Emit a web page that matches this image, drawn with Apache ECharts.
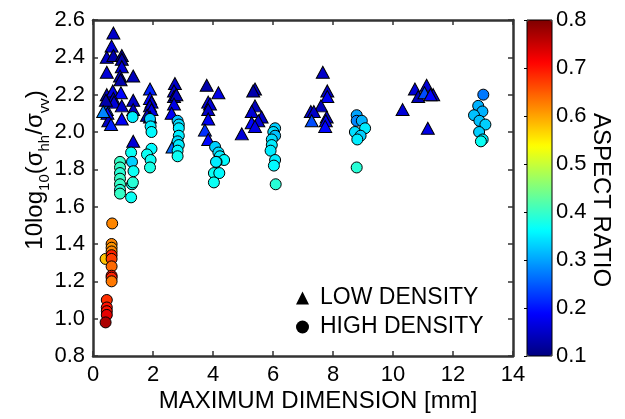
<!DOCTYPE html>
<html><head><meta charset="utf-8">
<script src="https://cdn.jsdelivr.net/npm/echarts@6/dist/echarts.min.js"></script>
<style>html,body{margin:0;padding:0;background:#fff}#c{width:625px;height:419px}</style>
</head><body><div id="c"></div>
<script>
// LOW DENSITY (triangles): max dimension [mm], 10log10(shh/svv), aspect ratio
const lowX  = [0.68,0.62,0.46,0.68,0.96,0.96,0.96,0.90,0.92,1.34,0.46,0.46,0.66,0.93,0.68,0.70,0.96,1.34,1.34,0.46,0.48,0.51,0.60,0.96,0.43,1.34,0.34,
               1.90,1.90,1.95,1.90,1.95,1.80,1.90,
               2.73,2.70,2.70,2.78,2.70,2.62,2.65,
               3.79,4.18,3.84,3.90,3.84,3.84,3.73,3.84,
               5.40,5.34,5.40,5.29,5.62,5.51,5.29,5.40,4.96,
               7.66,7.81,7.81,7.60,7.26,7.36,7.29,7.79,7.76,7.74,
               10.73,11.12,10.84,11.34,11.05,11.25,10.32,11.16];
const lowY  = [2.53,2.46,2.40,2.41,2.41,2.39,2.35,2.30,2.28,2.30,2.32,2.20,2.22,2.21,2.18,2.16,2.14,2.17,2.12,2.12,2.10,2.06,2.04,2.07,2.17,1.95,2.11,
               2.23,2.18,2.16,2.14,2.12,2.09,2.08,
               2.26,2.22,2.19,2.20,2.15,2.10,1.92,
               2.25,2.21,2.16,2.15,2.12,2.07,2.01,1.96,
               2.23,2.22,2.14,2.11,2.08,2.06,2.05,2.03,1.99,
               2.32,2.22,2.19,2.14,2.11,2.11,2.06,2.08,2.06,2.03,
               2.23,2.25,2.19,2.20,2.21,2.20,2.12,2.02];
const lowAR = [0.15,0.16,0.15,0.13,0.12,0.13,0.16,0.14,0.13,0.14,0.16,0.15,0.17,0.19,0.14,0.16,0.15,0.15,0.14,0.25,0.19,0.15,0.21,0.18,0.13,0.16,0.28,
               0.21,0.19,0.16,0.15,0.17,0.14,0.13,
               0.15,0.16,0.13,0.14,0.17,0.18,0.26,
               0.13,0.17,0.17,0.16,0.15,0.18,0.22,0.19,
               0.15,0.13,0.14,0.16,0.15,0.16,0.19,0.17,0.16,
               0.15,0.15,0.18,0.14,0.16,0.15,0.24,0.15,0.18,0.19,
               0.16,0.16,0.14,0.15,0.24,0.19,0.16,0.17];
// HIGH DENSITY (circles)
const highX  = [0.64,0.62,0.62,0.62,0.42,0.62,0.62,0.62,0.62,0.62,0.62,0.46,0.46,0.46,0.46,0.42,
                0.90,0.90,0.90,0.90,0.90,0.90,0.90,
                1.32,1.27,1.30,1.35,1.30,1.33,1.27,
                1.90,1.92,1.95,1.95,1.80,1.92,1.90,
                2.82,2.86,2.86,2.86,2.82,2.86,2.82,2.82,
                4.07,4.18,4.23,4.37,4.12,4.10,4.03,4.21,4.03,
                6.07,6.01,6.07,5.96,5.96,5.92,6.07,6.03,6.09,
                8.79,8.79,8.96,9.07,8.73,8.92,8.81,8.79,
                13.01,12.84,12.98,12.70,12.88,13.08,12.87,12.99,12.93];
const highY  = [1.51,1.40,1.38,1.36,1.32,1.34,1.32,1.28,1.23,1.22,1.20,1.10,1.06,1.04,1.02,0.98,
                1.84,1.81,1.78,1.75,1.72,1.69,1.67,
                2.08,1.89,1.84,1.79,1.72,1.73,1.65,
                2.07,2.03,2.00,1.91,1.88,1.85,1.81,
                2.06,2.04,2.02,1.98,1.95,1.93,1.90,1.87,
                1.92,1.89,1.87,1.85,1.84,1.84,1.78,1.78,1.73,
                2.02,2.00,1.98,1.96,1.93,1.90,1.85,1.82,1.72,
                2.09,2.06,2.06,2.02,2.00,1.98,1.96,1.81,
                2.20,2.14,2.11,2.09,2.06,2.04,2.00,1.96,1.95];
const highAR = [0.62,0.62,0.61,0.62,0.58,0.69,0.67,0.64,0.70,0.69,0.63,0.68,0.70,0.70,0.73,0.77,
                0.40,0.40,0.39,0.40,0.40,0.39,0.40,
                0.35,0.37,0.33,0.37,0.37,0.39,0.37,
                0.33,0.35,0.36,0.36,0.37,0.37,0.38,
                0.32,0.34,0.35,0.35,0.34,0.35,0.36,0.37,
                0.33,0.34,0.35,0.36,0.35,0.35,0.37,0.36,0.37,
                0.33,0.34,0.32,0.34,0.35,0.35,0.35,0.36,0.39,
                0.30,0.28,0.31,0.35,0.34,0.33,0.35,0.39,
                0.27,0.31,0.31,0.32,0.32,0.33,0.33,0.35,0.37];

const xTicks = {min: 0, max: 14, interval: 2};
const yTicks = {min: 0.8, max: 2.6, interval: 0.2};
const cTicks = {min: 0.1, max: 0.8, interval: 0.1};
const seriesNames = ['LOW DENSITY', 'HIGH DENSITY'];
const xTitle = 'MAXIMUM DIMENSION [mm]';
const cTitle = 'ASPECT RATIO';

const FONT = '"Liberation Sans", Arial, Helvetica, sans-serif';
const AX = '#333';
const jet = ['#00007F','#0000FF','#007FFF','#00FFFF','#7FFF7F','#FFFF00','#FF7F00','#FF0000','#7F0000'];

const zip = (a, b, c) => a.map((v, i) => [v, b[i], c[i]]);

function mainAxis(pos, showLabel, t, fmt) {
  return {
    type: 'value', gridIndex: 0, position: pos,
    min: t.min, max: t.max, interval: t.interval,
    axisLine: {show: true, onZero: false, lineStyle: {color: AX, width: 2.5}},
    axisTick: {show: true, inside: true, length: 5, lineStyle: {color: AX, width: 1.5}},
    axisLabel: {show: showLabel, fontSize: 22, fontFamily: FONT, color: '#000', margin: 8, formatter: fmt},
    splitLine: {show: false}
  };
}

const chart = echarts.init(document.getElementById('c'), null, {renderer: 'canvas'});
chart.setOption({
  animation: false,
  backgroundColor: '#fff',
  grid: [
    {left: 93, top: 20, width: 420, height: 336, containLabel: false},
    {left: 527, top: 20, width: 25, height: 336, show: true, z: 10, borderColor: '#000', borderWidth: 1, backgroundColor: 'transparent'}
  ],
  xAxis: [
    mainAxis('bottom', true, xTicks, v => String(v)),
    mainAxis('top', false, xTicks),
    {type: 'value', gridIndex: 1, show: false, min: 0, max: 1}
  ],
  yAxis: [
    mainAxis('left', true, yTicks, v => v.toFixed(1)),
    mainAxis('right', false, yTicks),
    {type: 'value', gridIndex: 1, position: 'right', z: 10,
     min: cTicks.min, max: cTicks.max, interval: cTicks.interval,
     axisLine: {show: false},
     axisTick: {show: true, inside: true, length: 3, lineStyle: {color: '#000', width: 1}},
     axisLabel: {show: true, fontSize: 22, fontFamily: FONT, color: '#000', margin: 4, formatter: v => v.toFixed(1)},
     splitLine: {show: false}}
  ],
  visualMap: {
    type: 'continuous', show: true, min: cTicks.min, max: cTicks.max, dimension: 2,
    seriesIndex: [0, 1], calculable: false, realtime: false, hoverLink: false,
    left: 527, top: 20, itemWidth: 25, itemHeight: 336, padding: 0, text: null,
    inRange: {color: jet}
  },
  legend: {
    orient: 'vertical', left: 291, top: 281, itemWidth: 13, itemHeight: 13, itemGap: 5,
    selectedMode: false,
    textStyle: {fontSize: 23, fontFamily: FONT, color: '#000', lineHeight: 24, padding: [0, 0, 0, 6]},
    data: [
      {name: seriesNames[0], icon: 'triangle', itemStyle: {color: '#000', borderWidth: 0}},
      {name: seriesNames[1], icon: 'circle', itemStyle: {color: '#000', borderWidth: 0}}
    ]
  },
  series: [
    {name: seriesNames[0], type: 'scatter', xAxisIndex: 0, yAxisIndex: 0, symbol: 'triangle', symbolSize: [13, 12],
     itemStyle: {borderColor: '#000', borderWidth: 1, opacity: 1}, data: zip(lowX, lowY, lowAR)},
    {name: seriesNames[1], type: 'scatter', xAxisIndex: 0, yAxisIndex: 0, symbol: 'circle', symbolSize: 11,
     itemStyle: {borderColor: '#000', borderWidth: 1, opacity: 1}, data: zip(highX, highY, highAR)}
  ],
  graphic: [
    {type: 'text', x: 318, y: 401, z: 20,
     style: {text: xTitle, fontSize: 24, fontFamily: FONT, fill: '#000', align: 'center', verticalAlign: 'middle'}},
    {type: 'text', x: 601, y: 200, rotation: -Math.PI / 2, z: 20,
     style: {text: cTitle, fontSize: 24, fontFamily: FONT, fill: '#000', align: 'center', verticalAlign: 'middle'}},
    {type: 'text', x: 36, y: 170, rotation: Math.PI / 2, z: 20,
     style: {
       text: '{m|10log}{s|10}{m|(σ}{s|hh}{m|/σ}{s|vv}{m|)}',
       align: 'center', verticalAlign: 'middle', fill: '#000',
       rich: {
         m: {fontSize: 24, fontFamily: FONT, fill: '#000', lineHeight: 26, verticalAlign: 'top'},
         s: {fontSize: 15, fontFamily: FONT, fill: '#000', lineHeight: 15, verticalAlign: 'top', padding: [14, 0, 0, 0]}
       }
     }}
  ]
});
</script></body></html>
